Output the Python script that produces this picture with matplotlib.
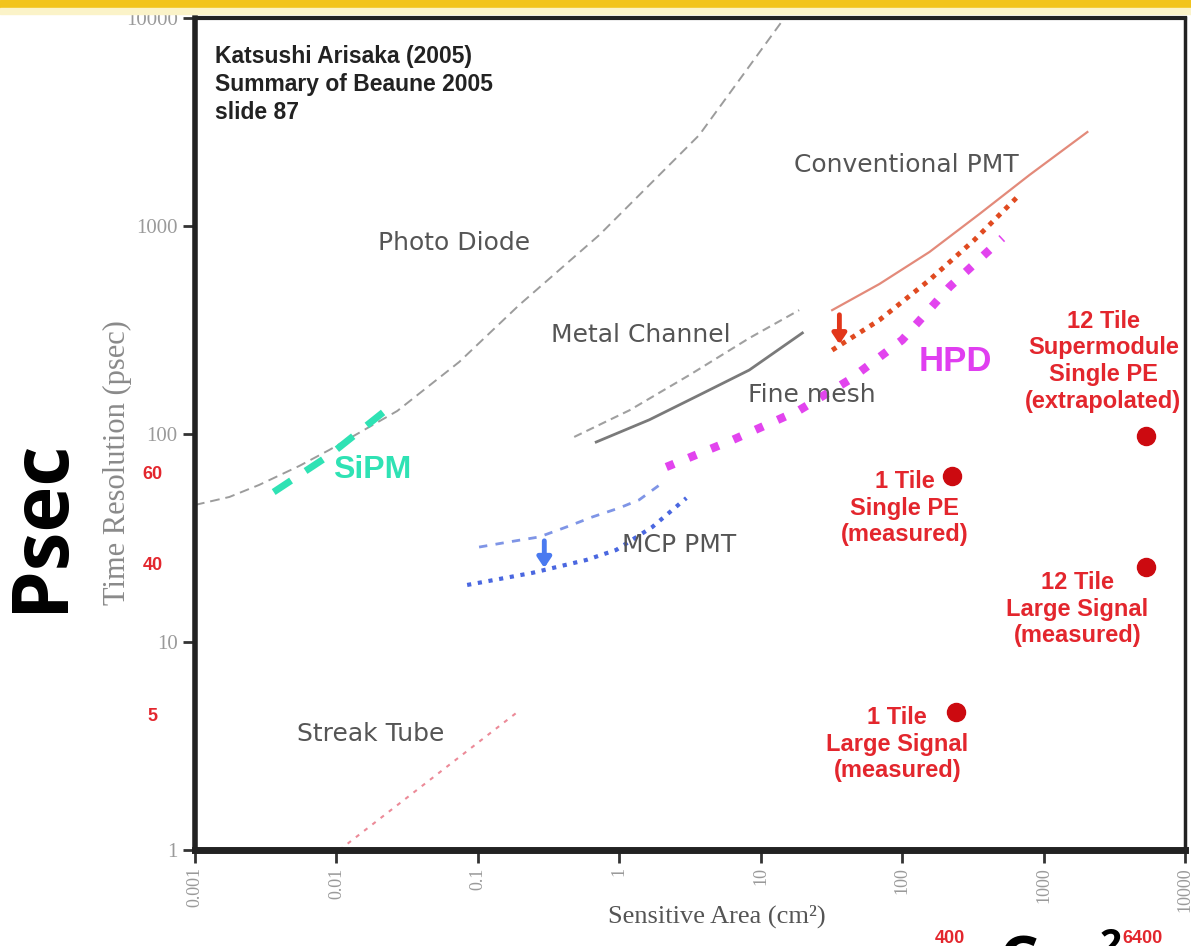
import matplotlib
matplotlib.use("Agg")
import matplotlib.pyplot as plt
from matplotlib.patches import Rectangle
from matplotlib.ticker import FixedLocator, NullLocator, FixedFormatter

# ---- curves (area cm^2, time resolution psec) -------------------------------
photo_diode_x = [0.001, 0.00175, 0.00284, 0.00546, 0.0089, 0.0157, 0.0269,
                 0.0738, 0.196, 0.722, 3.68, 14.7]
photo_diode_y = [45.6, 49.8, 56.9, 70.2, 83.8, 104.6, 129,
                 222, 417, 905, 2740, 10000]

sipm_x = [0.0036, 0.0089, 0.0256]
sipm_y = [52.6, 79, 140]

streak_x = [0.0105, 0.19]
streak_y = [1.0, 4.6]

metal_x = [0.48, 1.18, 3.13, 8.3, 18.7]
metal_y = [96.8, 130, 192, 289, 394]

fine_x = [0.687, 1.63, 3.68, 8.3, 19.7]
fine_y = [91.5, 117, 154, 203, 306]

conv_x = [32, 69, 156, 352, 794, 2040]
conv_y = [394, 526, 750, 1142, 1758, 2830]

conv_best_x = [32, 69, 156, 324, 674]
conv_best_y = [253, 353, 550, 857, 1410]

hpd_x = [2.15, 6.3, 18.7, 42.3, 100, 216, 511]
hpd_y = [69.4, 93.5, 130, 182, 283, 509, 875]

mcp_x = [0.102, 0.167, 0.272, 0.422, 0.644, 1.0, 1.38, 2.01]
mcp_y = [28.6, 30.3, 32.0, 35.7, 39.9, 44.1, 48.2, 58.1]

mcp_best_x = [0.084, 0.243, 0.585, 0.95, 1.71, 2.98]
mcp_best_y = [18.8, 21.5, 24.8, 27.7, 35.7, 49.2]

# arrows: (x, y_from, y_to)
conv_arrow = (36, 386, 262)
mcp_arrow = (0.295, 31.6, 22.0)

# measured / extrapolated tile points
tile_x = [226, 5330, 5330, 240]
tile_y = [62.8, 98, 23, 4.6]

x_ticks = [0.001, 0.01, 0.1, 1, 10, 100, 1000, 10000]
x_labels = ["0.001", "0.01", "0.1", "1", "10", "100", "1000", "10000"]
y_ticks = [1, 10, 100, 1000, 10000]
y_labels = ["1", "10", "100", "1000", "10000"]

RED = "#e3262d"
SERIF = ["Liberation Serif", "DejaVu Serif"]
SANS = ["DejaVu Sans"]
BOLD = ["Liberation Sans", "DejaVu Sans"]
SLIDE = ["Open Sans", "DejaVu Sans"]

fig = plt.figure(figsize=(11.91, 9.46), dpi=100)
fig.patches.append(Rectangle((0, 1 - 8 / 946), 1, 8 / 946, transform=fig.transFigure,
                             color="#f2c41c", zorder=0))
fig.patches.append(Rectangle((0, 1 - 14 / 946), 1, 6 / 946, transform=fig.transFigure,
                             color="#fbf3c8", zorder=0))

ax = fig.add_axes([195 / 1191, 1 - 850 / 946, 990 / 1191, 832 / 946])
ax.set_xscale("log")
ax.set_yscale("log")
ax.set_xlim(1e-3, 1e4)
ax.set_ylim(1, 1e4)

# ---- curves ----
ax.plot(photo_diode_x, photo_diode_y, color="#9c9c9c", lw=1.4, ls=(0, (5, 3)))
ax.plot(sipm_x, sipm_y, color="#2fe2b4", lw=5, ls=(0, (3, 2.5)))
ax.plot(streak_x, streak_y, color="#ec8a98", lw=1.5, ls=(0, (2, 3)))
ax.plot(metal_x, metal_y, color="#a0a0a0", lw=1.5, ls=(0, (4, 2.5)))
ax.plot(fine_x, fine_y, color="#7a7a7a", lw=2)
ax.plot(conv_x, conv_y, color="#e38a7a", lw=1.6)
ax.plot(conv_best_x, conv_best_y, color="#e04a20", lw=3.5, ls=(0, (1, 1.3)))
ax.plot(hpd_x, hpd_y, color="#e244ee", lw=6, ls=(0, (1, 1.9)))
ax.plot(mcp_x, mcp_y, color="#7f95e6", lw=2, ls=(0, (3, 3)))
ax.plot(mcp_best_x, mcp_best_y, color="#4a67e0", lw=3, ls=(0, (1, 1.6)))

for (x, y0, y1), c in ((conv_arrow, "#e2361a"), (mcp_arrow, "#4a7af0")):
    ax.annotate("", xy=(x, y1), xytext=(x, y0),
                arrowprops=dict(arrowstyle="-|>,head_width=0.4,head_length=0.6",
                                color=c, lw=3.5))

ax.plot(tile_x, tile_y, "o", color="#cc0a10", ms=13, ls="none")

# ---- curve labels ----
lab = dict(fontsize=18, color="#555555", family=SANS, ha="center", va="center")
ax.text(0.068, 828, "Photo Diode", **lab)
ax.text(107, 1963, "Conventional PMT", **lab)
ax.text(1.41, 299, "Metal Channel", **lab)
ax.text(22.8, 154, "Fine mesh", **lab)
ax.text(2.66, 29.3, "MCP PMT", **lab)
ax.text(0.0176, 3.61, "Streak Tube", **lab)
ax.text(0.0179, 67.1, "SiPM", fontsize=23, color="#2fe2b4", weight="bold",
        family=BOLD, ha="center", va="center")
ax.text(238, 222, "HPD", fontsize=25, color="#e03ef0", weight="bold",
        family=BOLD, ha="center", va="center")

red = dict(fontsize=17, color=RED, weight="bold", family=BOLD,
           ha="center", va="center", linespacing=1.2)
ax.text(2650, 224, "12 Tile\nSupermodule\nSingle PE\n(extrapolated)", **red)
ax.text(104, 44, "1 Tile\nSingle PE\n(measured)", **red)
ax.text(1734, 14.4, "12 Tile\nLarge Signal\n(measured)", **red)
ax.text(92.5, 3.23, "1 Tile\nLarge Signal\n(measured)", **red)

ax.text(0.02, 0.968, "Katsushi Arisaka (2005)\nSummary of Beaune 2005\nslide 87",
        transform=ax.transAxes, fontsize=16.5, weight="bold", family=BOLD,
        color="#222222", ha="left", va="top", linespacing=1.3)

# ---- axes ----
ax.xaxis.set_major_locator(FixedLocator(x_ticks))
ax.xaxis.set_major_formatter(FixedFormatter(x_labels))
ax.yaxis.set_major_locator(FixedLocator(y_ticks))
ax.yaxis.set_major_formatter(FixedFormatter(y_labels))
ax.xaxis.set_minor_locator(NullLocator())
ax.yaxis.set_minor_locator(NullLocator())
ax.tick_params(direction="out", length=9, width=2, color="#333333",
               labelcolor="#9a9a9a")
ax.tick_params(axis="x", labelsize=13)
ax.tick_params(axis="y", labelsize=15)
for t in ax.get_xticklabels():
    t.set_rotation(90)
    t.set_family(SERIF)
for t in ax.get_yticklabels():
    t.set_family(SERIF)

for side, w in (("left", 4), ("bottom", 5), ("top", 3), ("right", 2.5)):
    ax.spines[side].set_linewidth(w)
    ax.spines[side].set_color("#222222")

ax.set_ylabel("Time Resolution (psec)", fontsize=22, family=SERIF, color="#8a8a8a")
ax.yaxis.set_label_coords(-0.064, 0.466)
ax.set_xlabel("Sensitive Area (cm²)", fontsize=19, family=SERIF, color="#555555")
ax.xaxis.set_label_coords(0.527, -0.066)

for s, yy in (("60", 0.451), ("40", 0.3425), ("5", 0.161)):
    ax.text(-0.043, yy, s, transform=ax.transAxes, fontsize=13, weight="bold",
            color=RED, family=BOLD, ha="center", va="center")

# ---- slide overlays ----
fig.text(41 / 1191, 1 - 525 / 946, "Psec", rotation=90, fontsize=56, weight="bold",
         family=SLIDE, ha="center", va="center")
fig.text(998 / 1191, 1 - 981 / 946, "Cm", fontsize=45, weight="bold",
         family=SLIDE, ha="left", va="baseline")
fig.text(1100 / 1191, 1 - 927 / 946, "2", fontsize=28, weight="bold",
         family=SLIDE, ha="left", va="top")
fig.text(935 / 1191, 1 - 930 / 946, "400", fontsize=13, weight="bold", color=RED,
         family=BOLD, ha="left", va="top")
fig.text(1122 / 1191, 1 - 930 / 946, "6400", fontsize=13, weight="bold", color=RED,
         family=BOLD, ha="left", va="top")

fig.savefig("out.png", dpi=100)
